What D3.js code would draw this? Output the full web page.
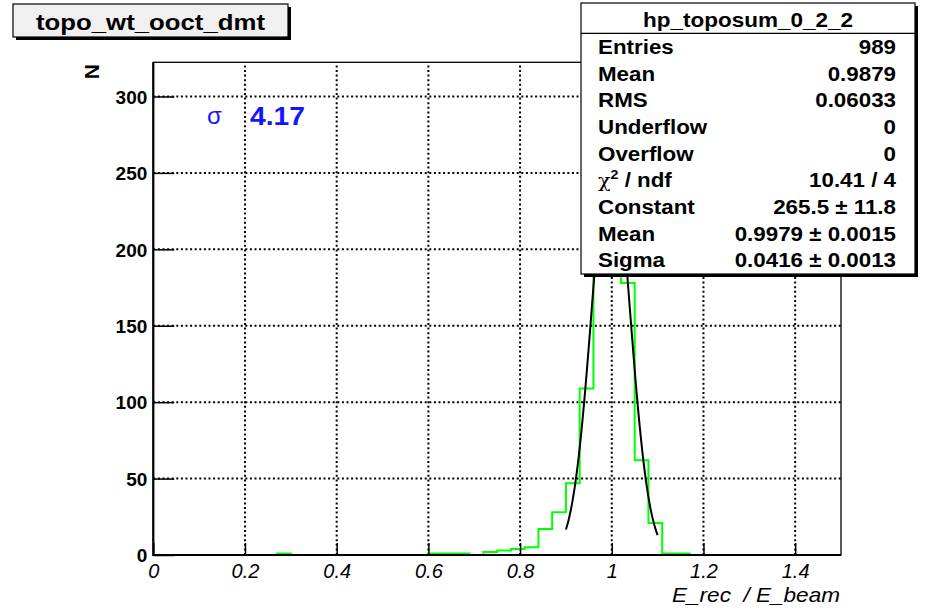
<!DOCTYPE html>
<html><head><meta charset="utf-8">
<script src="https://cdn.jsdelivr.net/npm/d3@7"></script>
<style>
body{margin:0;background:#fff;}
text{font-family:"Liberation Sans",Arial,Helvetica,sans-serif;}
</style></head>
<body><svg id="c" width="925" height="610"></svg>
<script>
// ---- data ----
const histTitle = "topo_wt_ooct_dmt";
const statsTitle = "hp_toposum_0_2_2";
const xMin = 0, xMax = 1.5, nBins = 50;
const counts = [0,0,0,0,0,0,0,0,0,1, 0,0,0,0,0,0,0,0,0,0, 1,1,1,0,2,3,4,5,17,28, 47,109,200,307,178,62,21,1,1,0, 0,0,0,0,0,0,0,0,0,0];
const xTickValues = [0,0.2,0.4,0.6,0.8,1.0,1.2,1.4];
const xTickLabels = ["0","0.2","0.4","0.6","0.8","1","1.2","1.4"];
const yTickValues = [0,50,100,150,200,250,300];
const yTickLabels = ["0","50","100","150","200","250","300"];
const statLabels = ["Entries","Mean","RMS","Underflow","Overflow","CHI","Constant","Mean","Sigma"];
const statValues = ["989","0.9879","0.06033","0","0","10.41 / 4","265.5 \u00b1 11.8","0.9979 \u00b1 0.0015","0.0416 \u00b1 0.0013"];
const fitConstant = 265.5, fitMean = 0.9979, fitSigma = 0.0416;
const fitRange = [0.9, 1.1];
const sigmaText = "4.17";
const xTitle = "E_rec  / E_beam";
const yTitle = "N";

// ---- layout ----
const svg = d3.select("#c");
const L = 153.3, R = 841, T = 62.3, B = 555;
const yMaxVal = d3.max(counts) * 1.05;
const x = d3.scaleLinear().domain([xMin, xMax]).range([L, R]);
const y = d3.scaleLinear().domain([0, yMaxVal]).range([B, T]);
const bw = (xMax - xMin) / nBins;

// grid
const grid = svg.append("g").attr("stroke","#000").attr("stroke-width",2).attr("stroke-dasharray","2,2.6");
xTickValues.filter(v => v > 0).forEach(v => {
  grid.append("line").attr("x1", x(v)).attr("x2", x(v)).attr("y1", B).attr("y2", T);
});
yTickValues.filter(v => v > 0).forEach(v => {
  grid.append("line").attr("x1", L).attr("x2", R).attr("y1", y(v)).attr("y2", y(v));
});

// histogram step outline
const pts = [];
pts.push([x(xMin), y(0)]);
counts.forEach((c, i) => {
  const x0 = xMin + i * bw, x1 = xMin + (i + 1) * bw;
  pts.push([x(x0), y(c)]);
  pts.push([x(x1), y(c)]);
});
pts.push([x(xMax), y(0)]);
svg.append("path").attr("d", d3.line()(pts)).attr("fill","none").attr("stroke","#00ff00").attr("stroke-width",2);

// fit curve
const fitPts = d3.range(0, 201).map(k => {
  const xv = fitRange[0] + (fitRange[1] - fitRange[0]) * k / 200;
  return [x(xv), y(fitConstant * Math.exp(-0.5 * Math.pow((xv - fitMean) / fitSigma, 2)))];
});
svg.append("path").attr("d", d3.line()(fitPts)).attr("fill","none").attr("stroke","#000").attr("stroke-width",2);

// axes
const xMinor = d3.range(0, 31).map(i => i * 0.05).filter(v => v <= xMax + 1e-9);
const yMinor = d3.range(0, 33).map(i => i * 10).filter(v => v <= yMaxVal);
const gx = svg.append("g").attr("transform", `translate(0,${B})`);
gx.call(d3.axisBottom(x).tickValues(xMinor).tickSize(-6).tickFormat(""));
gx.call(d3.axisBottom(x).tickValues(xTickValues).tickSize(-12).tickFormat((d,i)=>xTickLabels[i]));
gx.selectAll(".domain").remove();
gx.selectAll(".tick line").attr("stroke","#000").attr("stroke-width",1.5);
gx.selectAll(".tick text").attr("font-size",20).attr("font-style","italic").attr("fill","#000")
  .attr("dy",0).attr("y",22.5);

const gy = svg.append("g").attr("transform", `translate(${L},0)`);
gy.call(d3.axisLeft(y).tickValues(yMinor).tickSize(-11).tickFormat(""));
gy.call(d3.axisLeft(y).tickValues(yTickValues).tickSize(-21).tickFormat((d,i)=>yTickLabels[i]));
gy.selectAll(".domain").remove();
gy.selectAll(".tick line").attr("stroke","#000").attr("stroke-width",1.5);
gy.selectAll(".tick text").attr("font-size",19).attr("font-weight","bold").attr("fill","#000")
  .attr("x",-6).attr("dy","0.36em");

// frame
svg.append("rect").attr("x",L).attr("y",T).attr("width",R-L).attr("height",B-T)
  .attr("fill","none").attr("stroke","#000").attr("stroke-width",1.3);
svg.append("line").attr("x1",L).attr("x2",L).attr("y1",T).attr("y2",B+1).attr("stroke","#000").attr("stroke-width",2.2);
svg.append("line").attr("x1",L).attr("x2",R).attr("y1",B).attr("y2",B).attr("stroke","#000").attr("stroke-width",2.2);

// axis titles
svg.append("text").attr("x",R-1).attr("y",602).attr("text-anchor","end").attr("font-size",21)
  .attr("font-style","italic").attr("xml:space","preserve").style("white-space","pre")
  .attr("textLength",168).attr("lengthAdjust","spacingAndGlyphs").text(xTitle);
svg.append("text").attr("transform","translate(99,64) rotate(-90)").attr("text-anchor","end")
  .attr("font-size",21).attr("font-weight","bold").text(yTitle);

// sigma annotation
svg.append("text").attr("x",207).attr("y",124).attr("font-size",24).attr("fill","#1414ff").text("\u03c3");
svg.append("text").attr("x",250).attr("y",125).attr("font-size",26).attr("font-weight","bold").attr("fill","#1414ff")
  .attr("textLength",55).attr("lengthAdjust","spacingAndGlyphs").text(sigmaText);

// title box
svg.append("rect").attr("x",16).attr("y",7).attr("width",275).attr("height",33).attr("fill","#000");
svg.append("rect").attr("x",13).attr("y",4).attr("width",275).attr("height",33).attr("fill","#f0f0f0").attr("stroke","#000").attr("stroke-width",1.2);
svg.append("text").attr("x",150.5).attr("y",30).attr("text-anchor","middle").attr("font-size",22)
  .attr("font-weight","bold").attr("textLength",229).attr("lengthAdjust","spacingAndGlyphs").text(histTitle);

// stats box
const sx = 581, sy = 3, sw = 334, sh = 271;
svg.append("rect").attr("x",sx+3).attr("y",sy+3).attr("width",sw).attr("height",sh).attr("fill","#000");
svg.append("rect").attr("x",sx).attr("y",sy).attr("width",sw).attr("height",sh).attr("fill","#fff").attr("stroke","#000").attr("stroke-width",1.2);
svg.append("line").attr("x1",sx).attr("x2",sx+sw).attr("y1",33.3).attr("y2",33.3).attr("stroke","#000").attr("stroke-width",1.2);
svg.append("text").attr("x",sx+sw/2).attr("y",26.5).attr("text-anchor","middle").attr("font-size",21)
  .attr("font-weight","bold").attr("textLength",210).attr("lengthAdjust","spacingAndGlyphs").text(statsTitle);
const rowY = i => 54 + i * 26.65;
const sxScale = 1.09;
statLabels.forEach((lab, i) => {
  const t = svg.append("text").attr("transform",`translate(598,${rowY(i)}) scale(${sxScale},1)`)
    .attr("font-size",20.5).attr("font-weight","bold");
  if (lab === "CHI") {
    t.append("tspan").attr("font-weight","normal").attr("font-family","DejaVu Serif, serif").attr("font-size",19).text("\u03c7");
    t.append("tspan").attr("font-size",13).attr("dy",-8).text("2");
    t.append("tspan").attr("dy",8).text(" / ndf");
  } else {
    t.text(lab);
  }
  svg.append("text").attr("transform",`translate(896,${rowY(i)}) scale(${sxScale},1)`).attr("text-anchor","end").attr("font-size",20.5)
    .attr("font-weight","bold").text(statValues[i]);
});
</script>
</body></html>
